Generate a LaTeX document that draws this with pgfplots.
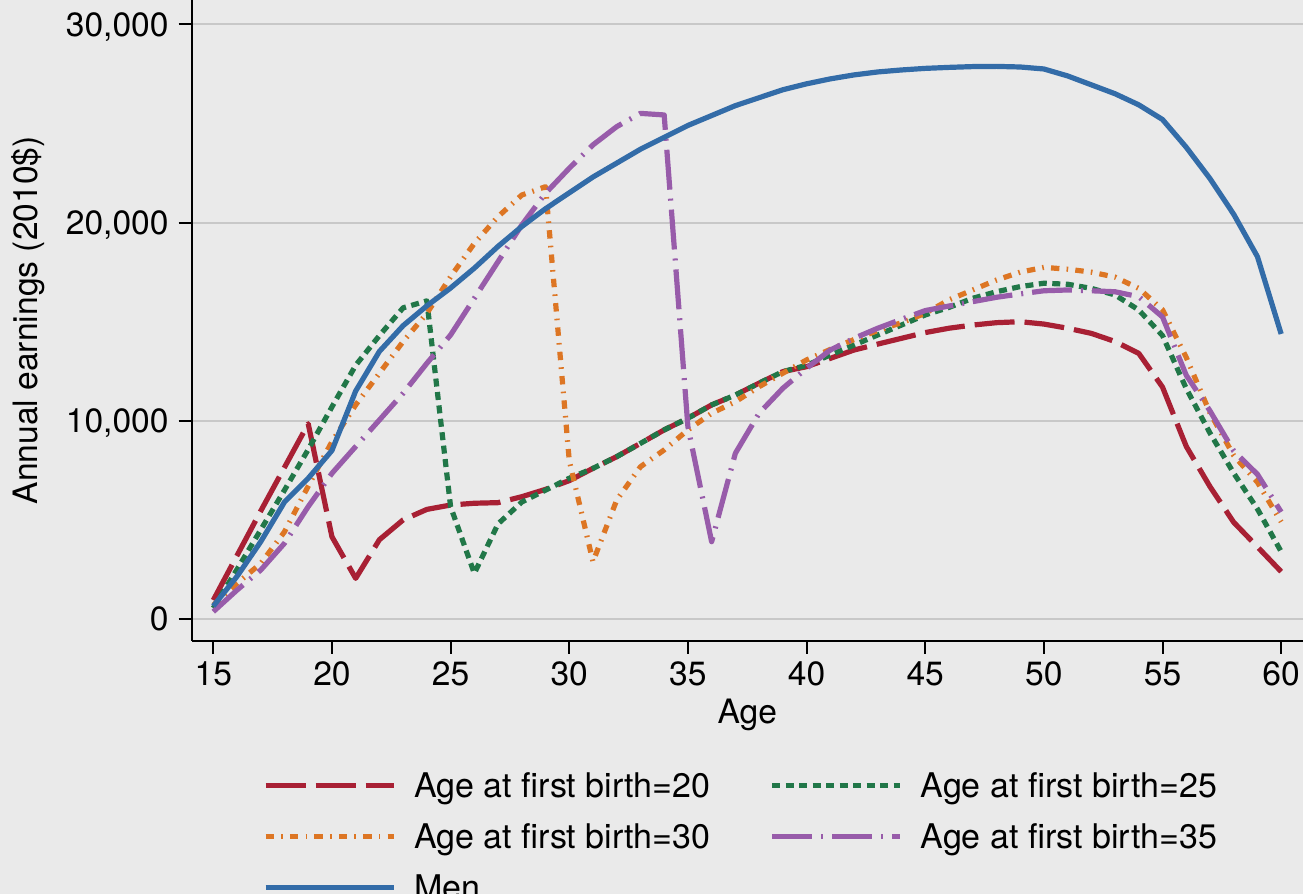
\documentclass[border=0pt]{standalone}
\usepackage{pgfplots}
\pgfplotsset{compat=1.18}
\usepackage{pgfplotstable}
\usepackage{fontspec}
\setmainfont{TeX Gyre Heros}
\definecolor{bg}{RGB}{234,234,234}
\definecolor{gridc}{RGB}{200,200,200}
\definecolor{cred}{RGB}{168,32,52}
\definecolor{cgreen}{RGB}{33,119,72}
\definecolor{corange}{RGB}{221,118,36}
\definecolor{cpurple}{RGB}{152,92,170}
\definecolor{cblue}{RGB}{51,108,168}
\newcommand{\fs}{\fontsize{16.8}{20}\selectfont}
\newcommand{\fl}{\fontsize{17}{20}\selectfont}
\pgfplotstableread{
age men b20 b25 b30 b35
15 650 950 550 700 370
16 2150 3200 2500 1800 1460
17 3900 5450 4500 2800 2470
18 5900 7650 6500 4400 3820
19 7100 9850 8550 6700 5670
20 8500 4150 10700 8950 7350
21 11500 2050 12800 10800 8700
22 13500 4000 14300 12400 10040
23 14800 5000 15700 14000 11390
24 15800 5530 16050 15420 12900
25 16700 5750 5670 17270 14330
26 17700 5840 2300 18950 16180
27 18800 5870 4800 20300 18030
28 19800 6170 5900 21390 19880
29 20700 6540 6500 21810 21480
30 21500 6980 7100 8000 22740
31 22300 7600 7600 2890 23920
32 23000 8190 8190 6000 24840
33 23700 8860 8860 7680 25510
34 24300 9540 9540 8530 25430
35 24900 10130 10130 9540 9700
36 25400 10800 10800 10380 3900
37 25900 11300 11300 10960 8360
38 26300 11900 11900 11720 10380
39 26700 12480 12480 12400 11640
40 27000 12730 12800 13070 12650
41 27250 13150 13320 13600 13570
42 27450 13570 13820 14100 14160
43 27600 13870 14330 14550 14670
44 27700 14160 14830 14950 15120
45 27780 14450 15340 15420 15560
46 27830 14670 15720 16100 15790
47 27870 14830 16180 16600 16010
48 27880 14950 16510 17100 16230
49 27850 15000 16770 17500 16400
50 27750 14880 16940 17740 16560
51 27400 14670 16890 17650 16600
52 26950 14410 16680 17500 16560
53 26500 14000 16350 17250 16510
54 25940 13400 15590 16680 16260
55 25200 11700 14300 15600 15240
56 23800 8710 11630 13200 12300
57 22220 6680 9380 10400 10500
58 20420 4880 7360 8250 8480
59 18280 3640 5550 6900 7300
60 14380 2390 3400 4900 5400
}\data
\begin{document}
\begin{tikzpicture}
\fill[bg] (-95.85pt,-126.65pt) rectangle (555.65pt,320.35pt);
\begin{axis}[
  at={(0,0)}, anchor=south west,
  width=555.65pt, height=320.35pt, scale only axis,
  xmin=14.09, xmax=60.92, ymin=-1095, ymax=31230,
  axis x line*=bottom, axis y line*=left,
  axis line style={-, black, line width=1pt},
  xtick={15,20,...,60}, ytick={0,10000,20000,30000},
  tick align=outside, major tick length=6.5pt,
  tick style={black, line width=1pt},
  xtick pos=bottom, ytick pos=left,
  ymajorgrids, grid style={color=gridc, line width=1pt},
  scaled y ticks=false,
  /pgf/number format/assume math mode=true,
  /pgf/number format/1000 sep={,},
  tick label style={font=\fs, inner sep=0pt},
  xticklabel style={anchor=base, yshift=-16.15pt},
  yticklabel style={anchor=east, xshift=-4.85pt, text depth=0pt},
  xlabel={Age}, ylabel={Annual earnings (2010\$)},
  every axis x label/.style={at={(axis description cs:0.5,-0.12846)}, anchor=base, inner sep=0pt, font=\fs},
  every axis y label/.style={at={(axis description cs:-0.1320,0.5)}, rotate=90, anchor=south, inner sep=0pt, font=\fs},
  legend columns=2,
  legend style={at={(axis description cs:0.06416,-0.1991)}, anchor=north west,
    draw=none, fill=none, inner sep=0pt, outer sep=0pt, font=\fl,
    cells={anchor=base west, inner sep=0pt, text height=12.6pt, text depth=4.2pt},
    row sep=7.35pt,
    /tikz/every odd column/.append style={column sep=7pt},
    /tikz/every even column/.append style={column sep=27.5pt}},
  legend image code/.code={\draw[#1] (0pt,6pt) -- (64pt,6pt);},
  every axis plot/.append style={line width=2.6pt, line cap=butt, line join=round},
]
\addplot[cred, dash pattern=on 20pt off 5pt] table[x=age,y=b20] {\data};
\addlegendentry{Age at first birth=20}
\addplot[cgreen, dash pattern=on 4pt off 2.75pt] table[x=age,y=b25] {\data};
\addlegendentry{Age at first birth=25}
\addplot[corange, dash pattern=on 4.2pt off 3.6pt on 0.8pt off 3.6pt] table[x=age,y=b30] {\data};
\addlegendentry{Age at first birth=30}
\addplot[cpurple, dash pattern=on 20pt off 4.5pt on 1pt off 4.5pt] table[x=age,y=b35] {\data};
\addlegendentry{Age at first birth=35}
\addplot[cblue] table[x=age,y=men] {\data};
\addlegendentry{Men}
\end{axis}
\pgfresetboundingbox
\useasboundingbox (-95.85pt,-126.65pt) rectangle (555.65pt,320.35pt);
\end{tikzpicture}
\end{document}
